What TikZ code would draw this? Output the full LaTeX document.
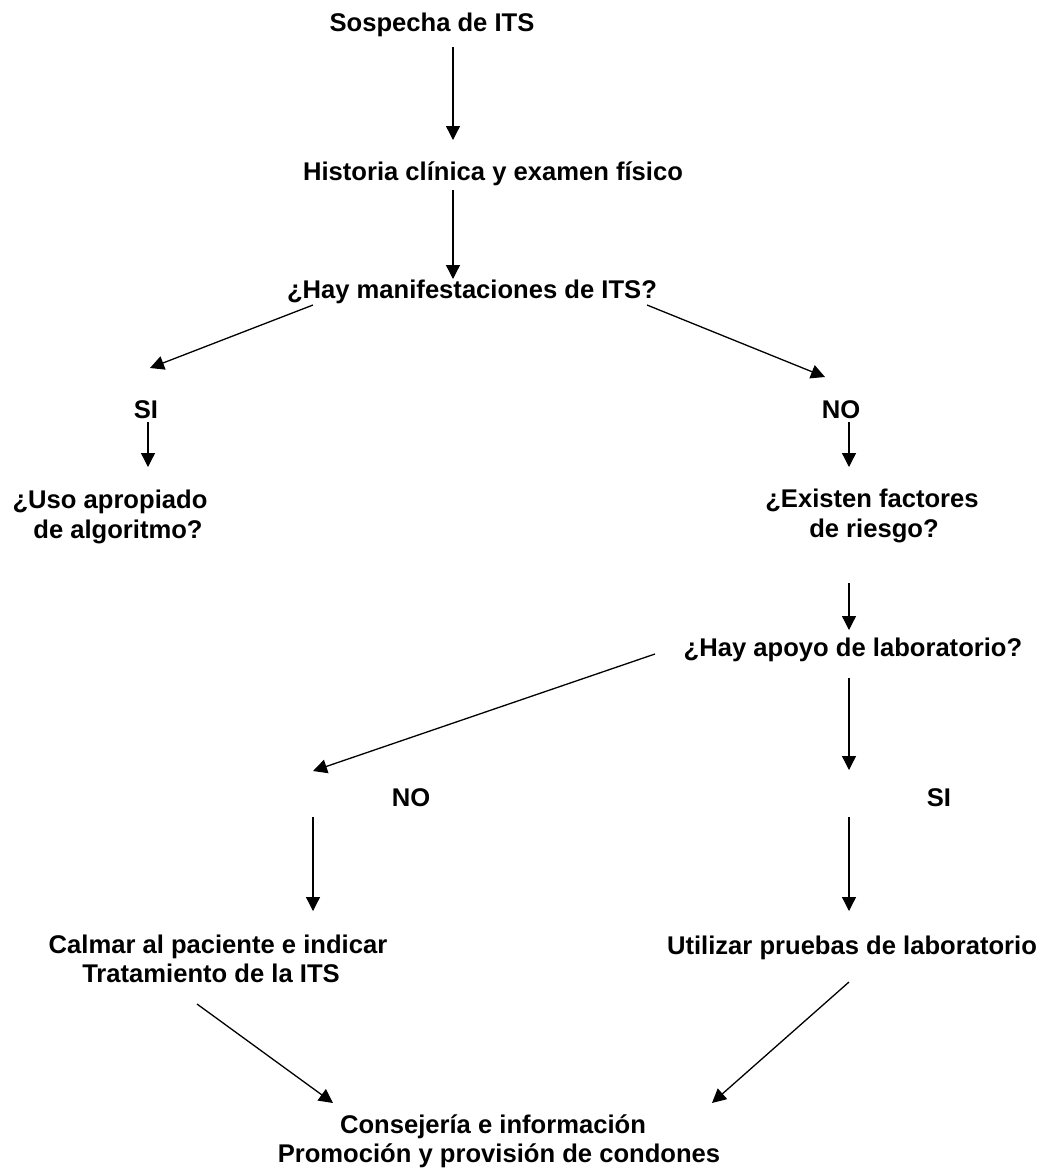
\documentclass[tikz,border=0pt]{standalone}
\usepackage{fontspec}
\setmainfont{Liberation Sans}
\usetikzlibrary{arrows.meta}
\begin{document}
\begin{tikzpicture}[x=1pt,y=-1pt,
  txt/.style={inner sep=0pt, anchor=base, font=\fontsize{25.6}{30}\selectfont\bfseries},
  arr/.style={line width=1.3pt, -{Triangle[length=14pt,width=14pt]}}]
\useasboundingbox (0,0) rectangle (1043,1171);
% text nodes
\node[txt] (sosp) at (432,31) {Sospecha de ITS};
\node[txt] (hist) at (493,180) {Historia clínica y examen físico};
\node[txt] (hay) at (472,298) {¿Hay manifestaciones de ITS?};
\node[txt] (si1) at (146,418) {SI};
\node[txt] (no1) at (841,418) {NO};
\node[txt] (uso1) at (110,508) {¿Uso apropiado};
\node[txt] (uso2) at (118,538) {de algoritmo?};
\node[txt] (exi1) at (872,507) {¿Existen factores};
\node[txt] (exi2) at (874,537) {de riesgo?};
\node[txt] (apoyo) at (853,656) {¿Hay apoyo de laboratorio?};
\node[txt] (no2) at (411,806) {NO};
\node[txt] (si2) at (939,806) {SI};
\node[txt] (calm1) at (218,953) {Calmar al paciente e indicar};
\node[txt] (calm2) at (211,982) {Tratamiento de la ITS};
\node[txt] (util) at (852,954) {Utilizar pruebas de laboratorio};
\node[txt] (cons1) at (493,1133) {Consejería e información};
\node[txt] (cons2) at (499,1162) {Promoción y provisión de condones};
% connector end points
\coordinate (a1s) at (453,47);   \coordinate (a1e) at (453,140);
\coordinate (a2s) at (453,190);  \coordinate (a2e) at (453,279);
\coordinate (a3s) at (313,305);  \coordinate (a3e) at (150,368);
\coordinate (a4s) at (647,305);  \coordinate (a4e) at (825,377);
\coordinate (a5s) at (148,422);  \coordinate (a5e) at (148,467);
\coordinate (a6s) at (849,422);  \coordinate (a6e) at (849,467);
\coordinate (a7s) at (849,583);  \coordinate (a7e) at (849,630);
\coordinate (a8s) at (655,654);  \coordinate (a8e) at (313,771);
\coordinate (a9s) at (849,678);  \coordinate (a9e) at (849,770);
\coordinate (a10s) at (313,817); \coordinate (a10e) at (313,911);
\coordinate (a11s) at (849,817); \coordinate (a11e) at (849,911);
\coordinate (a12s) at (197,1004); \coordinate (a12e) at (333,1103);
\coordinate (a13s) at (849,982); \coordinate (a13e) at (712,1103);
% connectors
\draw[arr] (a1s) -- (a1e);
\draw[arr] (a2s) -- (a2e);
\draw[arr] (a3s) -- (a3e);
\draw[arr] (a4s) -- (a4e);
\draw[arr] (a5s) -- (a5e);
\draw[arr] (a6s) -- (a6e);
\draw[arr] (a7s) -- (a7e);
\draw[arr] (a8s) -- (a8e);
\draw[arr] (a9s) -- (a9e);
\draw[arr] (a10s) -- (a10e);
\draw[arr] (a11s) -- (a11e);
\draw[arr] (a12s) -- (a12e);
\draw[arr] (a13s) -- (a13e);
\end{tikzpicture}
\end{document}
